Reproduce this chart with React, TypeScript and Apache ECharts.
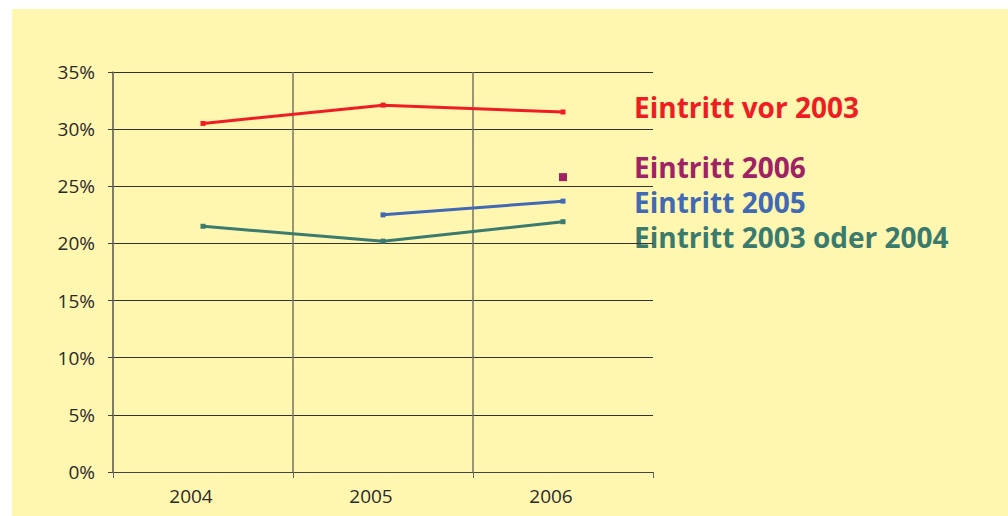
import React, { useEffect, useRef } from "react";
import * as echarts from "echarts";

const categories = ["2004", "2005", "2006"];
const seriesNames = ["Eintritt vor 2003", "Eintritt 2006", "Eintritt 2005", "Eintritt 2003 oder 2004"];
const vor2003 = [30.5, 32.1, 31.5];
const e2006 = [null, null, 25.8];
const e2005 = [null, 22.5, 23.7];
const e2003or2004 = [21.5, 20.2, 21.9];
const colors = ["#EE1D24", "#9E2264", "#4169B4", "#3A7B6E"];
const legendY = [107, 166.5, 201.5, 237];

export default function App() {
  const ref = useRef<HTMLDivElement>(null);
  useEffect(() => {
    if (!ref.current) return;
    const chart = echarts.init(ref.current, null, { renderer: "svg" });
    const data = [vor2003, e2006, e2005, e2003or2004];
    chart.setOption({
      animation: false,
      backgroundColor: "#ffffff",
      graphic: [
        {
          type: "rect",
          z: -10,
          silent: true,
          shape: { x: 12, y: 9, width: 996, height: 507 },
          style: { fill: "#FFF6B0" },
        },
        ...seriesNames.map((n, i) => ({
          type: "text",
          x: 634,
          y: legendY[i],
          style: {
            text: n,
            fill: colors[i],
            font: "bold 28px 'Open Sans'",
            verticalAlign: "middle",
          },
        })),
      ],
      grid: { left: 113, right: 355, top: 72, bottom: 44, containLabel: false },
      xAxis: {
        type: "category",
        data: categories,
        boundaryGap: true,
        axisLine: { show: true, lineStyle: { color: "#444", width: 1 } },
        axisTick: { show: true, length: 6, lineStyle: { color: "#666" } },
        axisLabel: {
          color: "#2a2a2a",
          fontFamily: "Open Sans",
          fontSize: 19,
          margin: 14,
          padding: [0, 24, 0, 0],
        },
        splitLine: {
          show: true,
          lineStyle: { color: ["#7a7560", "#7a7560", "#7a7560", "rgba(0,0,0,0)"], width: 1.5 },
        },
      },
      yAxis: {
        type: "value",
        min: 0,
        max: 35,
        interval: 5,
        axisLine: { show: true, lineStyle: { color: "#7a7560", width: 1.5 } },
        axisTick: { show: true, length: 5, lineStyle: { color: "#444" } },
        axisLabel: {
          color: "#2a2a2a",
          fontFamily: "Open Sans",
          fontSize: 19,
          margin: 18,
          padding: [0, 0, 6, 0],
          formatter: "{value}%",
        },
        splitLine: { show: true, lineStyle: { color: "#333", width: 1 } },
      },
      series: seriesNames.map((n, i) => ({
        name: n,
        type: "line",
        data: data[i],
        symbol: "rect",
        symbolSize: i === 1 ? 8 : 5,
        showSymbol: true,
        connectNulls: false,
        lineStyle: { color: colors[i], width: 3 },
        itemStyle: { color: colors[i] },
        z: 5,
      })),
    });
    return () => chart.dispose();
  }, []);
  return <div ref={ref} style={{ position: "fixed", left: 0, top: 0, width: 1008, height: 516 }} />;
}
